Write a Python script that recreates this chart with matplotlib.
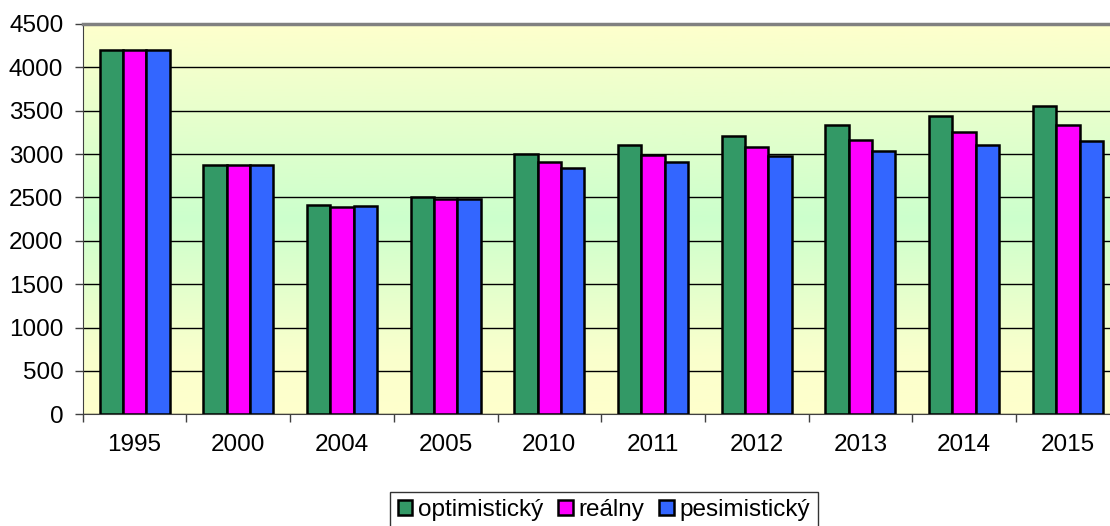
"""Scenáre vývoja: optimistický / reálny / pesimistický."""
import numpy as np
import matplotlib.pyplot as plt
from matplotlib.colors import LinearSegmentedColormap

plt.rcParams["font.family"] = ["Liberation Sans", "DejaVu Sans"]

years = ["1995", "2000", "2004", "2005", "2010", "2011", "2012", "2013", "2014", "2015"]
optimisticky = [4200, 2870, 2410, 2500, 3000, 3110, 3210, 3330, 3440, 3550]
realny = [4200, 2870, 2390, 2480, 2910, 2990, 3080, 3160, 3250, 3330]
pesimisticky = [4200, 2870, 2400, 2480, 2840, 2910, 2980, 3040, 3110, 3150]

series = [
    ("optimistický", optimisticky, "#339966"),
    ("reálny", realny, "#FF00FF"),
    ("pesimistický", pesimisticky, "#3366FF"),
]


def main():
    fs = 17.5
    fig = plt.figure(figsize=(11.1, 5.26), dpi=100)
    ax = fig.add_axes([82.7 / 1110, 1 - 414.3 / 526, 1037 / 1110, 390.3 / 526])

    # yellow -> green -> yellow background gradient
    cmap = LinearSegmentedColormap.from_list(
        "bg", [(0.0, "#FFFFCC"), (0.15, "#FAFFCC"), (0.5, "#CCFFCC"), (1.0, "#FFFFCC")])
    grad = np.linspace(0, 1, 256).reshape(-1, 1)
    ax.imshow(grad, cmap=cmap, aspect="auto", extent=(0, 1, 0, 1),
              transform=ax.transAxes, origin="lower", zorder=0)

    x = np.arange(len(years))
    w = 0.225
    for i, (name, vals, col) in enumerate(series):
        ax.bar(x + (i - 1) * w, vals, width=w, color=col, edgecolor="black",
               linewidth=1.8, label=name, zorder=3)

    ax.set_xlim(-0.5, len(years) - 0.5)
    ax.set_ylim(0, 4500)
    ax.set_yticks(np.arange(0, 4501, 500))
    ax.yaxis.grid(True, color="black", linewidth=1.0, zorder=1)
    ax.set_axisbelow(True)

    ax.set_xticks(np.arange(-0.5, len(years)), labels=[])
    ax.set_xticks(x, labels=years, minor=True)
    ax.tick_params(axis="x", which="major", length=6, width=1, color="#404040")
    ax.tick_params(axis="x", which="minor", length=0, pad=14, labelsize=fs)
    ax.tick_params(axis="y", length=6, width=1, color="#404040", pad=8,
                   labelsize=fs)

    ax.spines["top"].set_color("#808080")
    ax.spines["top"].set_linewidth(2.5)
    ax.spines["left"].set_color("#404040")
    ax.spines["bottom"].set_color("#404040")
    ax.spines["right"].set_visible(False)

    leg = fig.legend(loc="upper center", bbox_to_anchor=(604 / 1110, 1 - 492 / 526),
                     ncol=3, fontsize=fs, frameon=True, fancybox=False,
                     edgecolor="black", handlelength=0.6, handleheight=0.6,
                     handletextpad=0.25, columnspacing=0.6, borderpad=0.3,
                     borderaxespad=0)
    leg.get_frame().set_linewidth(1.0)

    fig.savefig("out.png", dpi=100)


if __name__ == "__main__":
    main()
